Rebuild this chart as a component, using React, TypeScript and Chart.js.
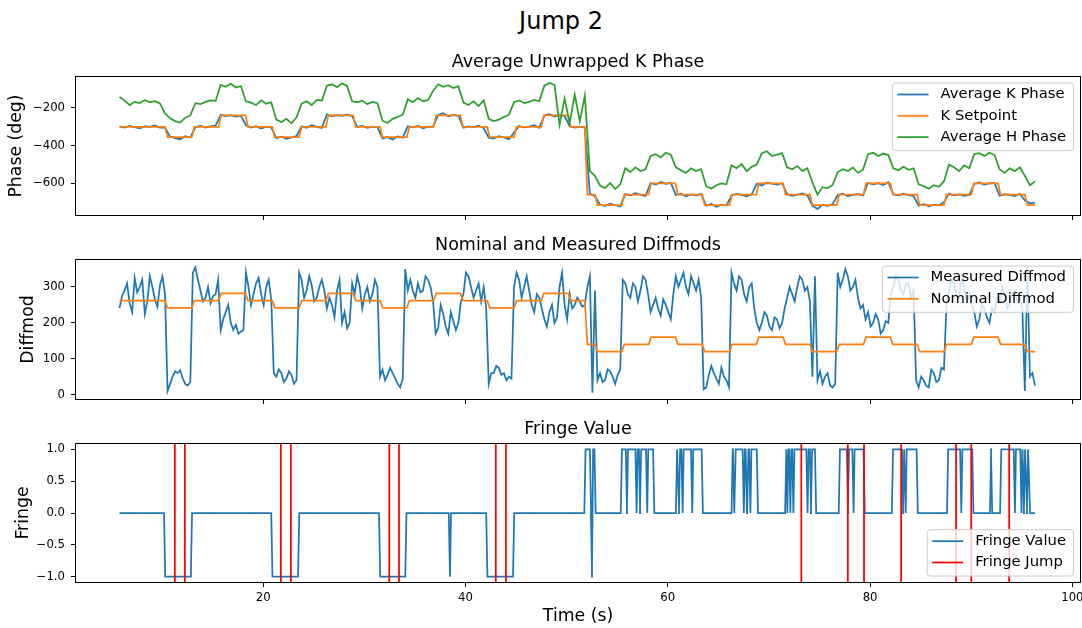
import React, { useEffect, useRef } from 'react';
import { Chart, registerables } from 'chart.js';

Chart.register(...registerables);
Chart.defaults.font.family = '"DejaVu Sans", sans-serif';
Chart.defaults.color = '#000';

// ---------------- data ----------------
// phase sample grid: first sample time and spacing (seconds)
const sampleStart = 5.8;
const sampleStep = 0.5;
// diffmod sample grid spacing (seconds)
const diffStep = 0.25;

const kPhase = [
  -298, -305, -296, -302, -308, -297, -301, -293, -304,
  -305,
  -352, -360, -366, -350, -357,
  -302, -296, -305, -298, -294,
  -236, -243, -238, -246, -241,
  -292,
  -304, -297, -309, -300, -303,
  -360, -352, -364, -356, -349,
  -297, -305, -292, -301, -306,
  -234, -245, -238, -242, -236, -244,
  -301, -296, -306, -299, -303,
  -362, -355, -368, -351, -358,
  -297, -303, -295, -308, -300, -298,
  -238, -228, -245, -237, -242,
  -305, -298, -302, -294, -307,
  -358, -363, -350, -357, -366,
  -330,
  -296, -303, -299, -292, -305,
  -240, -233, -246, -238, -243,
  -296, -304, -299,
  -305,
  -655,
  -668,
  -712, -720, -708, -716, -722,
  -657, -664, -652, -661, -667,
  -598, -606, -592, -603, -597,
  -662, -655, -668, -659, -663, -657,
  -718, -709, -724, -713, -717,
  -664, -656, -661, -669, -658,
  -603, -611, -596, -602, -606, -599,
  -657, -666, -660, -653, -664,
  -718, -736, -714, -719, -710,
  -662, -655, -668, -661, -657, -664,
  -597, -605, -599, -609, -594,
  -658, -664, -655, -662, -667,
  -718, -710, -722, -713, -716,
  -700,
  -654, -663, -658, -666, -661,
  -603, -595, -607, -600, -598,
  -665, -657, -661, -668, -655,
  -690,
  -706, -702,
];

const hPhase = [
  -142, -160, -185, -168, -175, -158, -170, -164, -176,
  -230,
  -255, -270, -278, -252, -240,
  -175, -180, -168, -160, -163,
  -78, -88, -72, -92, -84,
  -165,
  -172, -185, -160, -178, -170,
  -262, -275, -258, -282, -250,
  -178, -165, -185, -158, -162,
  -82, -75, -90, -70, -85, -165,
  -170, -162, -180, -168, -175,
  -268, -280, -258, -248, -236,
  -155, -170, -148, -165, -158, -110,
  -75, -88, -80, -95, -85,
  -172, -185, -165, -190, -160,
  -258, -270, -262, -248, -236,
  -170,
  -160, -175, -168, -158, -165,
  -82, -68, -78, -290, -150,
  -280, -130, -270,
  -135,
  -535,
  -560,
  -612, -625, -598, -630, -605,
  -520, -540, -515, -535, -525,
  -455, -445, -462, -438, -448,
  -515, -530, -545, -520, -535, -525,
  -615, -628, -610, -600, -605,
  -505, -520, -498, -535, -512,
  -500, -440, -430, -455, -448, -440,
  -515, -525, -508, -535, -520,
  -595, -660, -620, -625, -608,
  -540, -525, -535, -515, -545, -528,
  -445, -438, -455, -442, -450,
  -520, -530, -512, -528, -520,
  -605, -615, -628, -610, -618,
  -590,
  -500, -515, -535, -505, -520,
  -445, -440, -455, -438, -450,
  -525, -545, -520, -535, -515,
  -560,
  -610, -590,
];

const measuredDiffmod = [
  241, 275, 290, 310, 255, 230, 325, 285, 300, 320, 225, 260, 330, 300, 265, 245, 305, 330,
  280, 10,
  30, 50, 65, 60, 68, 45, 30, 25, 35, 340,
  355, 320, 290, 260, 270, 300, 255, 275, 280, 320,
  180, 210, 230, 250, 200, 180, 195, 170, 175, 180,
  340, 300,
  250, 280, 310, 325, 280, 250, 300, 320, 265, 60,
  50, 70, 60, 35, 45, 65, 55, 30, 40, 340,
  320, 270, 290, 330, 305, 260, 270, 300, 320, 290,
  240, 270, 250, 215, 290, 320, 200, 230, 185, 200, 310, 280,
  330, 300, 240, 280, 300, 260, 280, 320, 300, 50,
  70, 40, 55, 75, 60, 45, 30, 20, 45, 350,
  290, 320, 290, 270, 310, 285, 290, 330, 320, 300, 260, 170,
  185, 250, 225, 190, 170, 230, 205, 180, 200, 260,
  280, 340, 330, 300, 270, 290, 310, 260, 300, 240,
  30, 60, 60, 80, 75, 55, 60, 40, 50, 45,
  300, 340,
  320, 270, 300, 330, 290, 250, 230, 280, 270, 240,
  210, 190, 230, 250, 200, 215, 300, 340, 250, 210,
  280, 240, 250, 270, 260, 245,
  250, 300,
  330, 5,
  290, 40,
  60, 35, 40, 70, 65, 50, 30, 55, 70, 320,
  310, 280, 270, 310, 300, 260, 290, 330, 320, 280,
  230, 250, 270, 240, 220, 265, 250, 230, 210, 280,
  330, 300, 320, 340, 300, 280, 330, 310, 290, 320, 270, 15,
  20, 55, 80, 60, 45, 30, 75, 50, 40, 20,
  340, 310, 290, 330, 320, 280, 260, 300, 310, 240,
  200, 180, 200, 230, 220, 190, 180, 215, 210, 185, 200, 240,
  270, 300, 280, 260, 300, 330, 320, 290, 300, 260,
  50, 330, 40, 65, 30, 50, 60, 25, 20, 30,
  340, 300, 320, 350, 330, 290, 300, 320, 270, 240, 250, 210,
  230, 190, 200, 225, 210, 170, 180, 205, 200, 280,
  300, 330, 320, 290, 280, 310, 310, 270, 290, 40,
  20, 50, 40, 25, 20, 70, 60, 35, 40, 75,
  70, 250,
  290, 320, 310, 280, 270, 330, 300, 260, 280, 250,
  230, 190, 210, 250, 240, 215, 200, 240, 230, 270,
  260, 300, 280, 240, 250, 285, 290, 260, 270, 240,
  10, 355,
  50, 60, 25,
];

// step schedule of the setpoint (times of each change)
const stepTimes = [
  10.3, 12.95, 15.6, 18.25, 20.9, 23.55, 26.2, 28.9, 31.55, 34.2, 36.85, 39.5,
  42.15, 44.8, 47.5, 50.15, 51.8, 52.8, 55.45, 58.1, 60.75, 63.4, 66.1, 68.75,
  71.4, 74.05, 76.7, 79.35, 82.0, 84.65, 87.3, 90.0, 92.65, 95.3,
];
const setpointLevels = [
  -300, -355, -300, -240, -300, -355, -300, -240, -300, -355, -300, -240,
  -300, -355, -300, -240, -300, -660, -715, -660, -600, -660, -715, -660,
  -600, -660, -715, -660, -600, -660, -715, -660, -600, -660, -715,
];
const nominalLevels = [
  262, 242, 262, 282, 262, 242, 262, 282, 262, 242, 262, 282,
  262, 242, 262, 282, 262, 140, 120, 140, 160, 140, 120, 140,
  160, 140, 120, 140, 160, 140, 120, 140, 160, 140, 120,
];
const seriesEnd = 96.3;

// fringe value: times where the value changes, and the new value
const fringeChangeTimes = [
  10.2, 12.85, 20.8, 23.45, 31.45, 34.05, 38.35, 38.45, 42.05, 44.7,
  51.75, 52.3, 52.4, 52.5, 52.75,
  55.35, 55.85, 55.95, 56.8, 56.9, 57.15, 57.25, 57.85, 57.95, 58.55,
  60.8, 61.0, 61.1, 61.35, 61.45, 62.3, 62.4, 63.35,
  66.3, 66.45, 66.6, 67.4, 67.5, 67.7, 67.85, 68.05, 68.15, 68.8,
  71.6, 71.7, 71.8, 72.0, 72.1, 72.3, 72.4, 73.7, 73.8, 74.05, 74.15, 74.55,
  76.9, 77.7, 77.8, 78.25, 78.35, 79.35,
  82.15, 83.15, 83.25, 83.4, 83.5, 84.6,
  87.6, 88.9, 89.0, 90.1,
  91.85, 91.95, 92.85, 94.2, 94.3, 94.85, 94.95, 95.1, 95.2, 95.4, 95.5, 95.7,
];
const fringeChangeValues = [
  -1, 0, -1, 0, -1, 0, -1, 0, -1, 0,
  1, 0, -1, 1, 0,
  1, 0, 1, 0, 1, 0, 1, 0, 1, 0,
  1, 0, 1, 0, 1, 0, 1, 0,
  1, 0, 1, 0, 1, 0, 1, 0, 1, 0,
  1, 0, 1, 0, 1, 0, 1, 0, 1, 0, 1, 0,
  1, 0, 1, 0, 1, 0,
  1, 0, 1, 0, 1, 0,
  1, 0, 1, 0,
  1, 0, 1, 0, 1, 0, 1, 0, 1, 0, 1, 0,
];
const fringeJumpTimes = [
  11.27, 12.26, 21.75, 22.74, 32.47, 33.43, 43.0, 44.0,
  73.2, 77.8, 79.4, 83.07, 88.5, 90.0, 93.75,
];

const xTicks = [20, 40, 60, 80, 100];
const phaseTicks = [-600, -400, -200];
const diffTicks = [0, 100, 200, 300];
const fringeTicks = [-1, -0.5, 0, 0.5, 1];

// ---------------- helpers ----------------
const C_BLUE = '#1f77b4';
const C_ORANGE = '#ff7f0e';
const C_GREEN = '#2ca02c';
const C_RED = '#ff0000';
const LW = 1.75;

const sampled = (vals: number[], step: number) =>
  vals.map((y, i) => ({ x: +(sampleStart + step * i).toFixed(3), y }));

function steps(levels: number[], ramp: number) {
  const pts = [{ x: sampleStart, y: levels[0] }];
  stepTimes.forEach((t, k) => {
    pts.push({ x: t, y: levels[k] });
    pts.push({ x: t + ramp, y: levels[k + 1] });
  });
  pts.push({ x: seriesEnd, y: levels[levels.length - 1] });
  return pts;
}

function fringePoints() {
  let cur = 0;
  const pts = [{ x: sampleStart, y: 0 }];
  fringeChangeTimes.forEach((t, i) => {
    pts.push({ x: t, y: cur });
    cur = fringeChangeValues[i];
    pts.push({ x: t + 0.12, y: cur });
  });
  pts.push({ x: seriesEnd, y: cur });
  return pts;
}

function jumpPoints(yMin: number, yMax: number) {
  const pts: any[] = [];
  fringeJumpTimes.forEach((t) => {
    pts.push({ x: t, y: yMin }, { x: t, y: yMax }, { x: t, y: null });
  });
  return pts;
}

const minus = (s: string) => s.replace('-', '\u2212');

const frame = {
  id: 'frame',
  afterDatasetsDraw(chart: any) {
    const { ctx, chartArea: a } = chart;
    ctx.save();
    ctx.strokeStyle = '#000';
    ctx.lineWidth = 1;
    const l = Math.round(a.left) + 0.5, t = Math.round(a.top) + 0.5;
    const r = Math.round(a.right) - 0.5, b = Math.round(a.bottom) - 0.5;
    ctx.strokeRect(l, t, r - l, b - t);
    ctx.restore();
  },
};

const mplLegend = {
  id: 'mplLegend',
  afterDraw(chart: any, _args: any, opts: any) {
    if (!opts || !opts.loc) return;
    const { ctx, chartArea: a } = chart;
    const fs = 14.8;
    const items = chart.data.datasets.map((d: any) => ({ label: d.label, color: d.borderColor }));
    ctx.save();
    ctx.font = `${fs}px "DejaVu Sans"`;
    const tw = Math.max(...items.map((it: any) => ctx.measureText(it.label).width));
    const padL = 5, hl = 31, gap = 12, padR = 7.5, rowH = 21.3, padT = 11.5, padB = 13.5;
    const w = padL + hl + gap + tw + padR;
    const h = padT + rowH * (items.length - 1) + padB;
    const right = a.right - 7.5;
    const left = right - w;
    const top = opts.loc === 'upper right' ? a.top + 7 : a.bottom - 7 - h;
    const rad = 3;
    ctx.beginPath();
    ctx.moveTo(left + rad, top);
    ctx.lineTo(left + w - rad, top);
    ctx.arcTo(left + w, top, left + w, top + rad, rad);
    ctx.lineTo(left + w, top + h - rad);
    ctx.arcTo(left + w, top + h, left + w - rad, top + h, rad);
    ctx.lineTo(left + rad, top + h);
    ctx.arcTo(left, top + h, left, top + h - rad, rad);
    ctx.lineTo(left, top + rad);
    ctx.arcTo(left, top, left + rad, top, rad);
    ctx.closePath();
    ctx.fillStyle = 'rgba(255,255,255,0.8)';
    ctx.fill();
    ctx.strokeStyle = '#cccccc';
    ctx.lineWidth = 1;
    ctx.stroke();
    items.forEach((it: any, i: number) => {
      const y = top + padT + i * rowH;
      ctx.strokeStyle = it.color;
      ctx.lineWidth = LW;
      ctx.beginPath();
      ctx.moveTo(left + padL, y);
      ctx.lineTo(left + padL + hl, y);
      ctx.stroke();
      ctx.fillStyle = '#000';
      ctx.textBaseline = 'middle';
      ctx.textAlign = 'left';
      ctx.fillText(it.label, left + padL + hl + gap, y);
    });
    ctx.restore();
  },
};

const gridOpts = {
  drawOnChartArea: false,
  drawTicks: true,
  tickLength: 4,
  tickColor: '#000',
  tickWidth: 1,
  color: '#000',
};

const zeroPad = (ax: any) => {
  ax.paddingLeft = 0;
  ax.paddingRight = 0;
  ax.paddingTop = 0;
  ax.paddingBottom = 0;
};

function xScale(labels: boolean) {
  return {
    type: 'linear',
    min: 1.4,
    max: 100.85,
    afterBuildTicks: (ax: any) => {
      ax.ticks = xTicks.map((v) => ({ value: v }));
    },
    afterFit: (ax: any) => {
      ax.height = labels ? 45 : 10;
      zeroPad(ax);
    },
    grid: gridOpts,
    border: { display: false },
    ticks: {
      display: labels,
      color: '#000',
      font: { size: 11.7 },
      padding: 3.6,
      maxRotation: 0,
      autoSkip: false,
      callback: (v: any) => minus(String(v)),
    },
    title: labels
      ? { display: true, text: 'Time (s)', color: '#000', font: { size: 17.3 }, padding: { top: 0, bottom: 1.6 } }
      : { display: false },
  };
}

function yScale(min: number, max: number, ticks: number[], fmt: (v: number) => string, title: string, titlePad: number) {
  return {
    type: 'linear',
    min,
    max,
    afterBuildTicks: (ax: any) => {
      ax.ticks = ticks.map((v) => ({ value: v }));
    },
    afterFit: (ax: any) => {
      ax.width = 75;
      zeroPad(ax);
    },
    grid: gridOpts,
    border: { display: false },
    ticks: { color: '#000', font: { size: 11.7 }, padding: 6, callback: (v: any) => fmt(v) },
    title: { display: true, text: title, color: '#000', font: { size: 17.3 }, padding: { top: titlePad, bottom: 0 } },
  };
}

function lineDs(label: string, data: any[], color: string, order: number) {
  return {
    label,
    data,
    borderColor: color,
    backgroundColor: color,
    borderWidth: LW,
    pointRadius: 0,
    fill: false,
    tension: 0,
    spanGaps: false,
    order,
  };
}

function baseOptions(title: string, titlePadTop: number, titlePadBottom: number, x: any, y: any, legendLoc: string) {
  return {
    responsive: false,
    animation: false,
    devicePixelRatio: 1,
    layout: { padding: { left: 0, right: 1, top: 0, bottom: 0 } },
    scales: { x, y },
    plugins: {
      legend: { display: false },
      tooltip: { enabled: false },
      title: {
        display: true,
        text: title,
        color: '#000',
        fullSize: false,
        font: { size: 17.5, weight: 'normal' },
        padding: { top: titlePadTop, bottom: titlePadBottom },
      },
      mplLegend: { loc: legendLoc },
    },
  };
}

function useChart(ref: React.RefObject<HTMLCanvasElement>, make: () => any) {
  useEffect(() => {
    if (!ref.current) return;
    const chart = new Chart(ref.current, make());
    return () => chart.destroy();
  }, []);
}

export default function App() {
  const r1 = useRef<HTMLCanvasElement>(null);
  const r2 = useRef<HTMLCanvasElement>(null);
  const r3 = useRef<HTMLCanvasElement>(null);

  useChart(r1, () => ({
    type: 'line',
    data: {
      datasets: [
        lineDs('Average K Phase', sampled(kPhase, sampleStep), C_BLUE, 3),
        lineDs('K Setpoint', steps(setpointLevels, 0.25), C_ORANGE, 2),
        lineDs('Average H Phase', sampled(hPhase, sampleStep), C_GREEN, 1),
      ],
    },
    options: baseOptions(
      'Average Unwrapped K Phase', 11.75, 3.25,
      xScale(false),
      yScale(-773, -31, phaseTicks, (v) => minus(String(v)), 'Phase (deg)', 6.6),
      'upper right'
    ),
    plugins: [frame, mplLegend],
  }));

  useChart(r2, () => ({
    type: 'line',
    data: {
      datasets: [
        lineDs('Measured Diffmod', sampled(measuredDiffmod, diffStep), C_BLUE, 2),
        lineDs('Nominal Diffmod', steps(nominalLevels, 0.25), C_ORANGE, 1),
      ],
    },
    options: baseOptions(
      'Nominal and Measured Diffmods', 11.8, 3.2,
      xScale(false),
      yScale(-15, 378, diffTicks, (v) => minus(String(v)), 'Diffmod', 18.6),
      'upper right'
    ),
    plugins: [frame, mplLegend],
  }));

  useChart(r3, () => ({
    type: 'line',
    data: {
      datasets: [
        lineDs('Fringe Value', fringePoints(), C_BLUE, 2),
        lineDs('Fringe Jump', jumpPoints(-1.1, 1.1), C_RED, 1),
      ],
    },
    options: baseOptions(
      'Fringe Value', 11.5, 3.5,
      xScale(true),
      yScale(-1.1, 1.1, fringeTicks, (v) => minus(Number(v).toFixed(1)), 'Fringe', 13.2),
      'lower right'
    ),
    plugins: [frame, mplLegend],
  }));

  const canvasStyle = (top: number, h: number): React.CSSProperties => ({
    position: 'absolute',
    left: 0,
    top,
    width: 1082,
    height: h,
  });

  return (
    <div style={{ position: 'absolute', left: 0, top: 0, width: 1082, height: 628, background: '#fff', overflow: 'hidden' }}>
      <div
        style={{
          position: 'absolute',
          left: 40,
          top: 9,
          width: 1042,
          textAlign: 'center',
          fontFamily: '"DejaVu Sans", sans-serif',
          fontSize: 24,
          lineHeight: '24px',
          color: '#000',
        }}
      >
        Jump 2
      </div>
      <canvas ref={r1} width={1082} height={186} style={canvasStyle(40, 186)} />
      <canvas ref={r2} width={1082} height={187} style={canvasStyle(223, 187)} />
      <canvas ref={r3} width={1082} height={221} style={canvasStyle(407, 221)} />
    </div>
  );
}
